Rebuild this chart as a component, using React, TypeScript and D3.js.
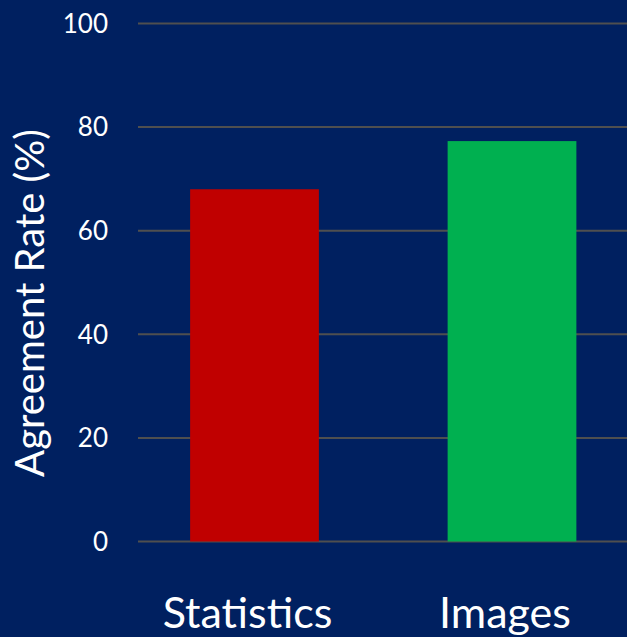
import React from "react";
import * as d3 from "d3";

const categories = ["Statistics", "Images"];
const agreementRates = [68, 77.3];
const barColors = ["#C00000", "#00B050"];
const yTicks = [0, 20, 40, 60, 80, 100];

const W = 627;
const H = 637;
const FONT = "Lato, 'Open Sans', sans-serif";

export default function App() {
  const y = d3.scaleLinear().domain([0, 100]).range([541.5, 23.5]);
  const x = d3
    .scaleBand<string>()
    .domain(categories)
    .range([125.75, 640.75])
    .paddingInner(0.5)
    .paddingOuter(0.25);

  return (
    <svg
      width={W}
      height={H}
      style={{ position: "absolute", left: 0, top: 0, display: "block" }}
    >
      <rect x={0} y={0} width={W} height={H} fill="#002060" />
      {yTicks.map((t) => (
        <g key={t}>
          <line
            x1={138}
            x2={W}
            y1={y(t)}
            y2={y(t)}
            stroke="#4f4f4f"
            strokeWidth={2}
          />
          <text
            x={108}
            y={y(t)}
            dy="0.36em"
            textAnchor="end"
            fill="#fff"
            fontFamily={FONT}
            fontSize={26}
          >
            {t}
          </text>
        </g>
      ))}
      {categories.map((c, i) => (
        <rect
          key={c}
          x={x(c)}
          y={y(agreementRates[i])}
          width={x.bandwidth()}
          height={y(0) - y(agreementRates[i])}
          fill={barColors[i]}
        />
      ))}
      {categories.map((c) => (
        <text
          key={c}
          x={(x(c) as number) + x.bandwidth() / 2 - 7}
          y={628}
          textAnchor="middle"
          fill="#fff"
          fontFamily={FONT}
          fontSize={43}
        >
          {c}
        </text>
      ))}
      <text
        transform="translate(44,303) rotate(-90)"
        textAnchor="middle"
        fill="#fff"
        fontFamily={FONT}
        fontSize={40}
      >
        Agreement Rate (%)
      </text>
    </svg>
  );
}
